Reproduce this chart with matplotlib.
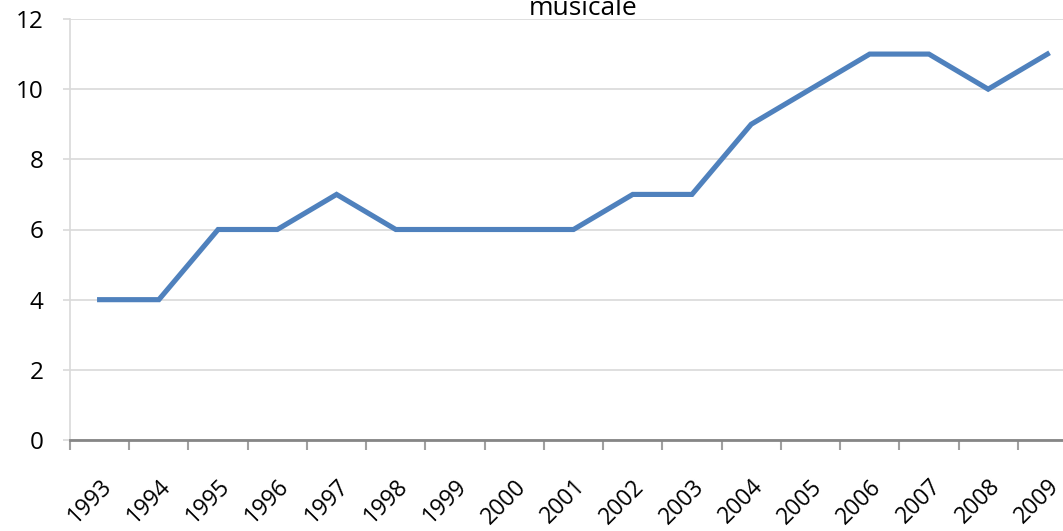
import numpy as np
import matplotlib.pyplot as plt

# data
years = [str(y) for y in range(1993, 2010)]
values = [4, 4, 6, 6, 7, 6, 6, 6, 6, 7, 7, 9, 10, 11, 11, 10, 11]
yticks = [0, 2, 4, 6, 8, 10, 12]

plt.rcParams['font.family'] = ['Open Sans', 'DejaVu Sans']

fig = plt.figure(figsize=(10.63, 5.31), dpi=100)
ax = fig.add_axes([70 / 1063, 91 / 531, 1007 / 1063, 421 / 531])

x = np.arange(len(years))
ax.plot(x, values, color='#4F81BD', linewidth=3.7, solid_joinstyle='miter', zorder=3)

ax.set_xlim(-0.5, len(years) - 0.5)
ax.set_ylim(0, 12)
ax.set_yticks(yticks)
ax.set_yticklabels([str(v) for v in yticks], fontsize=17.5)
ax.yaxis.grid(True, color='#D9D9D9', linewidth=1.2)
ax.set_axisbelow(True)

ax.set_xticks(x)
ax.set_xticklabels(years, rotation=45, ha='right', rotation_mode='anchor', fontsize=16.5)
ax.tick_params(axis='x', which='major', length=0, pad=25)
ax.set_xticks(np.arange(-0.5, len(years)), minor=True)
ax.tick_params(axis='x', which='minor', length=7, width=1.5, color='#A0A0A0')
ax.tick_params(axis='y', length=5, width=1.2, color='#D9D9D9', pad=14)

for s in ['top', 'right']:
    ax.spines[s].set_visible(False)
ax.spines['left'].set_color('#D9D9D9')
ax.spines['left'].set_linewidth(1.2)
ax.spines['bottom'].set_color('#868686')
ax.spines['bottom'].set_linewidth(2)

fig.text(583 / 1063, 1 - 15 / 531, 'musicale', ha='center', va='baseline', fontsize=19)

fig.savefig('out.png', dpi=100)
